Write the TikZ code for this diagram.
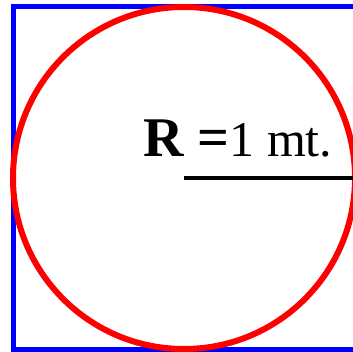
\documentclass[tikz,border=0pt]{standalone}
\usepackage{fontspec}
\setmainfont{Liberation Serif}
\begin{document}
\begin{tikzpicture}[x=1pt,y=-1pt,
  frame/.style={draw=blue,line width=5pt},
  circ/.style={draw=red,line width=6pt},
  radius line/.style={draw=black,line width=3.2pt}]
\useasboundingbox (0,0) rectangle (352,352);
\draw[frame] (370,6.5) -- (13.5,6.5) -- (13.5,349.5) -- (370,349.5);
\coordinate (c) at (184,178);
\coordinate (e) at (360,178);
\draw[circ] (c) circle[radius=171];
\draw[radius line] (c) -- (e);
\node[anchor=base west,inner sep=0pt] (lbl) at (143,157)
  {\fontsize{56}{56}\selectfont\bfseries R =\fontsize{50}{50}\selectfont\mdseries 1 mt.};
\end{tikzpicture}
\end{document}
